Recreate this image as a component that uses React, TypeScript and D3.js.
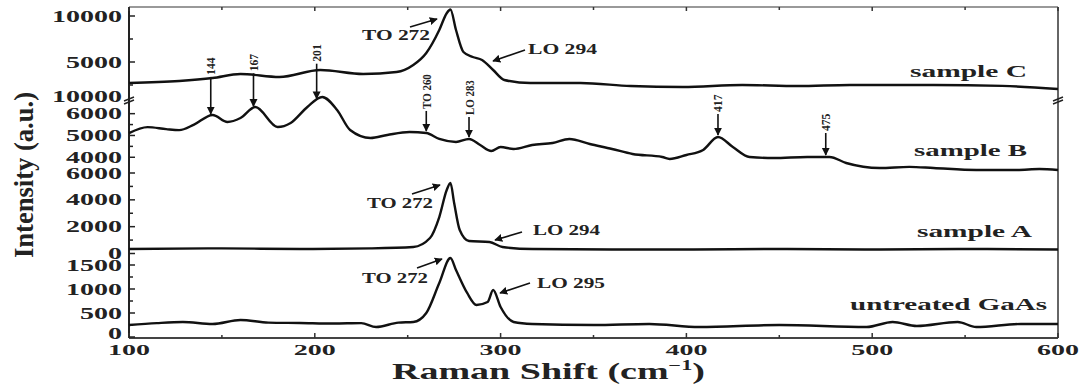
import React from "react";
import * as d3 from "d3";

// ---- data (wavenumber cm^-1, intensity a.u.) ----
const wnC = [100, 127, 145, 160, 181, 203, 226, 244, 253, 260, 267, 271, 273, 276, 280, 285, 290, 296, 302, 316, 343, 370, 398, 430, 460, 488, 533, 570, 600];
const valC = [2717, 2935, 3260, 3696, 3370, 4130, 3696, 3913, 4674, 5978, 8478, 10300, 10700, 8478, 6087, 5543, 5217, 4130, 3043, 2717, 2717, 2391, 2283, 2500, 2391, 2500, 2500, 2400, 2065];

const wnB = [100, 110, 120, 127, 135, 145, 153, 160, 168, 180, 187, 196, 204, 212, 219, 230, 239, 251, 260, 267, 276, 283, 289, 295, 300, 307, 317, 328, 337, 348, 360, 371, 387, 391, 400, 409, 417, 425, 434, 447, 465, 477, 486, 504, 520, 533, 556, 578, 590, 600];
const valB = [5106, 5382, 5290, 5244, 5500, 5941, 5620, 5803, 6308, 5390, 5574, 6308, 6767, 6170, 5252, 4885, 5023, 5160, 5115, 4839, 4702, 4839, 4564, 4289, 4472, 4380, 4564, 4656, 4839, 4610, 4380, 4151, 4013, 3921, 4105, 4334, 4931, 4472, 4013, 3967, 4013, 4013, 3738, 3508, 3560, 3508, 3416, 3416, 3460, 3416];

const wnA = [100, 150, 192, 230, 253, 262, 267, 271, 273, 275, 278, 283, 294, 301, 317, 360, 400, 450, 500, 550, 600];
const valA = [335, 380, 335, 380, 484, 1155, 2720, 4732, 5253, 3763, 1751, 931, 857, 484, 335, 300, 300, 335, 300, 335, 300];

const wnU = [100, 115, 129, 145, 160, 175, 192, 210, 225, 233, 245, 253, 260, 267, 273, 276, 282, 287, 293, 296, 300, 307, 317, 350, 380, 407, 450, 497, 511, 524, 546, 556, 580, 600];
const valU = [250, 290, 312, 270, 354, 300, 292, 280, 290, 208, 300, 313, 500, 1125, 1646, 1396, 917, 667, 729, 980, 625, 313, 271, 250, 271, 208, 250, 208, 313, 230, 313, 208, 271, 271];

const ticksC = [5000, 10000];
const minorC = [2500, 7500];
const ticksB = [4000, 5000, 6000];
const minorB = [4500, 5500];
const ticksA = [0, 2000, 4000, 6000];
const minorA = [1000, 3000, 5000];
const ticksU = [0, 500, 1000, 1500];
const minorU = [250, 750, 1250];
const xTicks = [100, 200, 300, 400, 500, 600];
const xMinor = [150, 250, 350, 450, 550];

const sampleNames = ["sample C", "sample B", "sample A", "untreated GaAs"];
const peakWnB = [144, 167, 201, 260, 283, 417, 475];
const peakTextB = ["144", "167", "201", "TO 260", "LO 283", "417", "475"];

// layout only: arrow length above each sample-B peak
const peakArrowLen = [37, 33, 35, 20, 20, 21, 22];

const FONT = "'Liberation Serif', 'Times New Roman', Times, serif";

export default function App() {
  const W = 1084, H = 387;
  const left = 129, right = 1058, top = 7, bottom = 338;
  const x = d3.scaleLinear().domain([100, 600]).range([left, right]);

  const panels = [
    { data: wnC.map((w, i) => [w, valC[i]]), y: d3.scaleLinear().domain([2000, 11000]).range([89.6, 6.8]), ticks: ticksC, minor: minorC, name: sampleNames[0], nameX: 910, nameLen: 117, nameY: 77 },
    { data: wnB.map((w, i) => [w, valB[i]]), y: d3.scaleLinear().domain([3100, 6700]).range([176.9, 98.4]), ticks: ticksB, minor: minorB, name: sampleNames[1], nameX: 914, nameLen: 113, nameY: 156 },
    { data: wnA.map((w, i) => [w, valA[i]]), y: d3.scaleLinear().domain([0, 6000]).range([253.5, 173]), ticks: ticksA, minor: minorA, name: sampleNames[2], nameX: 917, nameLen: 115, nameY: 237 },
    { data: wnU.map((w, i) => [w, valU[i]]), y: d3.scaleLinear().domain([0, 1700]).range([337, 255.4]), ticks: ticksU, minor: minorU, name: sampleNames[3], nameX: 850, nameLen: 197, nameY: 310 },
  ];

  const line = (p: any) =>
    d3.line<number[]>().x((d) => x(d[0])).y((d) => p.y(d[1])).curve(d3.curveMonotoneX)(p.data) || "";

  const yB = panels[1].y;
  const interpB = (w: number) => {
    for (let i = 0; i < wnB.length - 1; i++) {
      if (w >= wnB[i] && w <= wnB[i + 1]) {
        const t = (w - wnB[i]) / (wnB[i + 1] - wnB[i]);
        return valB[i] + t * (valB[i + 1] - valB[i]);
      }
    }
    return valB[valB.length - 1];
  };

  const tickText = (s: string, xr: number, y: number, key: string) => (
    <text key={key} x={xr - s.length * 14} y={y} fontSize={16} fontWeight="bold" fontFamily={FONT}
      textLength={s.length * 14} lengthAdjust="spacingAndGlyphs" fill="#222">{s}</text>
  );

  const annot = (text: string, tx: number, ty: number, len: number, x1: number, y1: number, x2: number, y2: number, key: string) => (
    <g key={key}>
      <text x={tx} y={ty} fontSize={14} fontWeight="bold" fontFamily={FONT} textLength={len}
        lengthAdjust="spacingAndGlyphs" fill="#222">{text}</text>
      <line x1={x1} y1={y1} x2={x2} y2={y2} stroke="#111" strokeWidth={1.6} markerEnd="url(#ah)" />
    </g>
  );

  return (
    <svg width={W} height={H} style={{ position: "absolute", left: 0, top: 0, background: "#fff" }}>
      <defs>
        <marker id="ah" viewBox="0 0 10 10" refX="9" refY="5" markerWidth="5" markerHeight="5" orient="auto">
          <path d="M0,0 L10,5 L0,10 z" fill="#111" />
        </marker>
        <marker id="ahv" viewBox="0 0 10 10" refX="9" refY="5" markerWidth="5" markerHeight="6" orient="auto">
          <path d="M0,0 L10,5 L0,10 z" fill="#111" />
        </marker>
      </defs>

      {/* frame */}
      <line x1={left} y1={top} x2={right} y2={top} stroke="#777" strokeWidth={1.5} />
      <line x1={right} y1={top} x2={right} y2={bottom} stroke="#666" strokeWidth={2} />
      <line x1={left} y1={top} x2={left} y2={bottom} stroke="#222" strokeWidth={2} />
      <line x1={left} y1={bottom} x2={right} y2={bottom} stroke="#444" strokeWidth={2} />

      {/* x ticks */}
      {xTicks.map((t) => (
        <g key={"xt" + t}>
          <line x1={x(t)} x2={x(t)} y1={bottom} y2={bottom - 5} stroke="#333" strokeWidth={1.5} />
          <line x1={x(t)} x2={x(t)} y1={top} y2={top + 4} stroke="#333" strokeWidth={1.5} />
          <text x={x(t)} y={355} textAnchor="middle" fontSize={15} fontWeight="bold" fontFamily={FONT}
            textLength={42} lengthAdjust="spacingAndGlyphs" fill="#222">{String(t)}</text>
        </g>
      ))}
      {xMinor.map((t) => (
        <g key={"xm" + t}>
          <line x1={x(t)} x2={x(t)} y1={bottom} y2={bottom - 3} stroke="#333" strokeWidth={1.5} />
          <line x1={x(t)} x2={x(t)} y1={top} y2={top + 3} stroke="#333" strokeWidth={1.5} />
        </g>
      ))}

      {/* panels */}
      {panels.map((p, i) => (
        <g key={"p" + i}>
          {p.ticks.map((t) => (
            <g key={"yt" + t}>
              <line x1={left} x2={left + 6} y1={p.y(t)} y2={p.y(t)} stroke="#222" strokeWidth={1.5} />
              {tickText(String(t), 122, p.y(t) + (i === 3 && t === 0 ? 2 : 5.5), "ytl" + i + t)}
            </g>
          ))}
          {p.minor.map((t) => (
            <line key={"ym" + t} x1={left} x2={left + 4} y1={p.y(t)} y2={p.y(t)} stroke="#222" strokeWidth={1.5} />
          ))}
          <path d={line(p)} fill="none" stroke="#111" strokeWidth={2.4} strokeLinejoin="round" />
          <text x={p.nameX} y={p.nameY} fontSize={16} fontWeight="bold" fontFamily={FONT} textLength={p.nameLen}
            lengthAdjust="spacingAndGlyphs" fill="#222">{p.name}</text>
        </g>
      ))}

      {/* axis break label and marks */}
      {tickText("10000", 122, 102, "brk")}
      {[left, right].map((bx) => (
        <g key={"bm" + bx}>
          <line x1={bx - 5} y1={101} x2={bx + 5} y2={97} stroke="#222" strokeWidth={1.5} />
          <line x1={bx - 5} y1={104} x2={bx + 5} y2={100} stroke="#222" strokeWidth={1.5} />
        </g>
      ))}

      {/* annotations */}
      {annot("TO 272", 362, 40, 68, 410, 27, 437, 19, "c1")}
      {annot("LO 294", 528, 54, 69, 525, 50, 493, 61, "c2")}
      {annot("TO 272", 367, 208, 66, 412, 194, 440, 185, "a1")}
      {annot("LO 294", 533, 235, 67, 522, 232, 495, 240, "a2")}
      {annot("TO 272", 362, 283, 66, 417, 268, 442, 259, "u1")}
      {annot("LO 295", 537, 288, 68, 530, 283, 500, 293, "u2")}

      {/* sample B peak labels */}
      {peakWnB.map((w, i) => {
        const px = x(w);
        const py = yB(interpB(w));
        const arrowTop = py - 2 - peakArrowLen[i];
        const label = peakTextB[i];
        const len = label.length * 5.8;
        return (
          <g key={"pk" + w}>
            <line x1={px} y1={arrowTop} x2={px} y2={py - 2} stroke="#111" strokeWidth={1.6} markerEnd="url(#ahv)" />
            <text transform={`translate(${px + 4.5},${arrowTop - 2}) rotate(-90)`} fontSize={12} fontWeight="bold"
              fontFamily={FONT} textLength={len} lengthAdjust="spacingAndGlyphs" fill="#222">{label}</text>
          </g>
        );
      })}

      {/* axis titles */}
      <text transform="translate(33,258) rotate(-90)" fontSize={27} fontWeight="bold" fontFamily={FONT}
        textLength={166} lengthAdjust="spacingAndGlyphs" fill="#222">Intensity (a.u.)</text>
      <text x={392} y={379} fontSize={24} fontWeight="bold" fontFamily={FONT} textLength={313}
        lengthAdjust="spacingAndGlyphs" fill="#222">
        Raman Shift (cm<tspan dy={-9} fontSize={14}>−1</tspan><tspan dy={9}>)</tspan>
      </text>
    </svg>
  );
}
